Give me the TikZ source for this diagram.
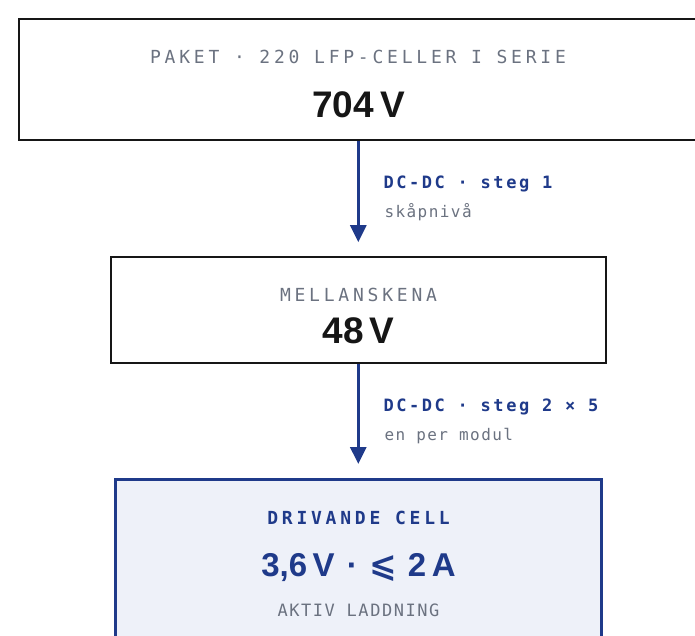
\documentclass[tikz,border=0pt]{standalone}
\usepackage{fontspec}
\usepackage{xcolor}
\usetikzlibrary{arrows.meta}
\setmainfont{Liberation Sans}
\newfontfamily\capfont[LetterSpace=21]{DejaVu Sans Mono}
\newfontfamily\stagefont[LetterSpace=15]{DejaVu Sans Mono Bold}
\newfontfamily\notefont[LetterSpace=9]{DejaVu Sans Mono}
\newfontfamily\voltfont{Liberation Sans Bold}
\newfontfamily\symfont{DejaVu Sans Bold}

\definecolor{navy}{HTML}{1F3A8A}
\definecolor{slate}{HTML}{6B7280}
\definecolor{ink}{HTML}{161616}
\definecolor{paleblue}{HTML}{EEF1F9}

\begin{document}
\begin{tikzpicture}[x=1pt, y=-1pt,
        box/.style={draw=ink, line width=1.6pt, inner sep=0pt},
        cellbox/.style={draw=navy, fill=paleblue, line width=3pt, inner sep=0pt},
        caption/.style={anchor=base, text=slate, font=\capfont\fontsize{18}{20}\selectfont},
        volts/.style={anchor=base, text=ink, font=\voltfont\fontsize{37}{42}\selectfont},
        flow/.style={draw=navy, line width=3pt, -{Triangle[width=16pt, length=17pt]}},
        stage/.style={anchor=base west, text=navy, font=\stagefont\fontsize{17}{20}\selectfont},
        note/.style={anchor=base west, text=slate, font=\notefont\fontsize{16}{18}\selectfont}]
        \clip (0,0) rectangle (695,635);
        \fill[white] (0,0) rectangle (695,635);
        % Pack
        \node[box, minimum width=678pt, minimum height=121pt] (pack) at (358,79.5) {};
        \node[caption] (packcap) at (358,63) {PAKET · 220 LFP-CELLER I SERIE};
        \node[volts] (packv) at (358.5,117) {704\,V};
        % Bus
        \node[box, minimum width=495pt, minimum height=106pt] (bus) at (358.5,310) {};
        \node[caption] (buscap) at (358.5,301) {MELLANSKENA};
        \node[volts] (busv) at (358.5,343.5) {48\,V};
        % Driven cell
        \node[cellbox, minimum width=486pt, minimum height=200pt] (cell) at (358.5,579.5) {};
        \node[caption, text=navy, font=\capfont\bfseries\fontsize{18}{20}\selectfont] (cellcap) at (358.5,524) {DRIVANDE CELL};
        \node[volts, text=navy, font=\voltfont\fontsize{33}{38}\selectfont] (cellv) at (358.5,576) {3,6\,V\hspace{3pt} · \hspace{2pt}{\symfont ⩽}\hspace{2pt} 2\,A};
        \node[caption, font=\notefont\fontsize{17}{20}\selectfont] (cellnote) at (358.5,616) {AKTIV LADDNING};
        % DC-DC stages
        \draw[flow, shorten >=14pt] (pack.south -| 358.3,0) -- (bus.north -| 358.3,0);
        \draw[flow, shorten >=14pt] (bus.south -| 358.3,0) -- (cell.north -| 358.3,0);
        \node[stage] (dc1) at (380,188) {DC-DC · steg 1};
        \node[note] (dc1note) at (381,217) {skåpnivå};
        \node[stage] (dc2) at (380,411) {DC-DC · steg 2 × 5};
        \node[note] (dc2note) at (381,440) {en per modul};
\end{tikzpicture}
\end{document}
